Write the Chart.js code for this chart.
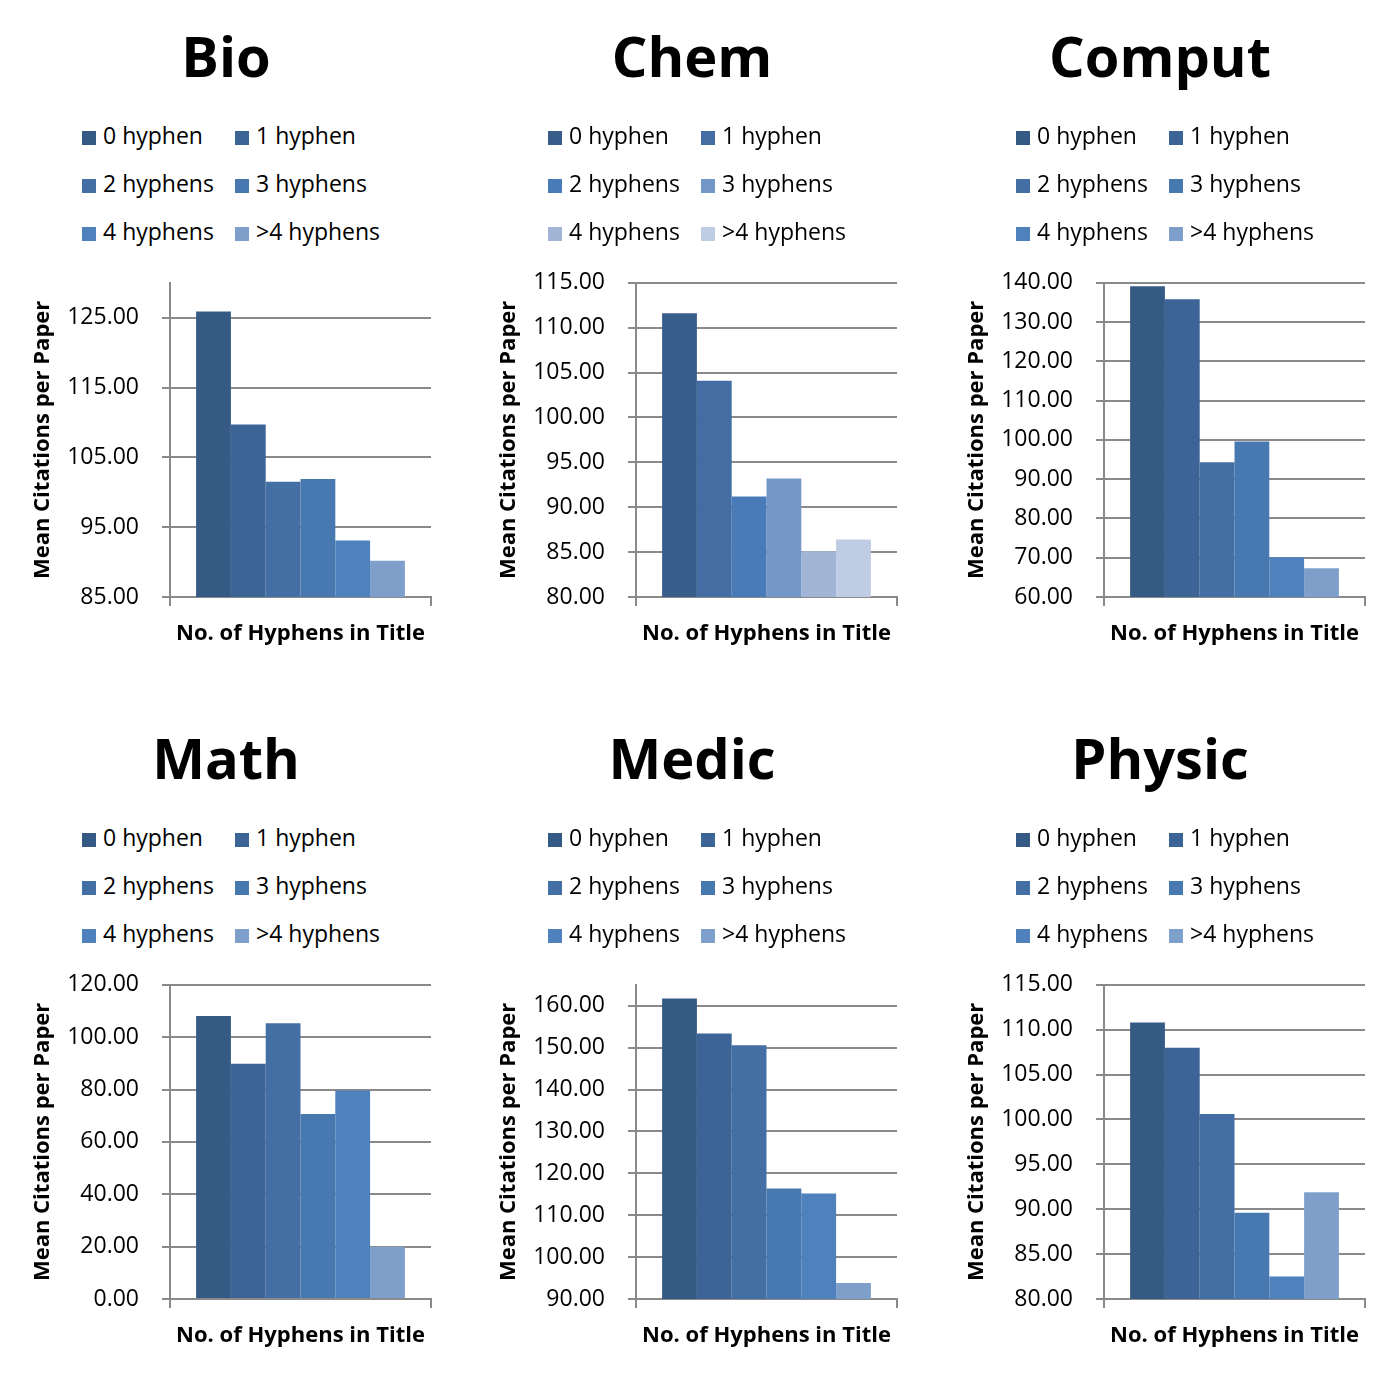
<!DOCTYPE html>
<html>
<head>
<meta charset="utf-8">
<script src="https://cdn.jsdelivr.net/npm/chart.js@4.4.1/dist/chart.umd.min.js"></script>
<style>
  html, body { margin: 0; padding: 0; background: #fff; }
  body { width: 1400px; height: 1379px; position: relative; font-family: "Open Sans", sans-serif; color: #000; }
  .panel { position: absolute; width: 467px; height: 690px; }
  .title { position: absolute; left: 0; top: 27px; width: 452px; text-align: center;
           font-weight: bold; font-size: 56px; line-height: 56px; }
  .legend { position: absolute; left: 82px; top: 111px; display: grid;
            grid-template-columns: 153px auto; }
  .legend div { height: 48px; line-height: 48px; font-size: 23px; white-space: nowrap; }
  .legend span { display: inline-block; width: 14px; height: 14px; margin-right: 7px; vertical-align: -1px; }
  canvas { position: absolute; left: 0; top: 246px; }
</style>
</head>
<body>
<script>
// series + values
const seriesNames = ['0 hyphen', '1 hyphen', '2 hyphens', '3 hyphens', '4 hyphens', '>4 hyphens'];

const bioValues    = [125.9, 109.7, 101.5, 101.9, 93.1, 90.2];
const chemValues   = [111.6, 104.1, 91.2, 93.2, 85.1, 86.4];
const computValues = [139.1, 135.8, 94.3, 99.6, 70.1, 67.3];
const mathValues   = [108.1, 89.8, 105.3, 70.7, 79.6, 20.0];
const medicValues  = [161.7, 153.4, 150.6, 116.4, 115.2, 93.8];
const physicValues = [110.8, 108.0, 100.6, 89.6, 82.5, 91.9];

const bioTicks    = [85, 95, 105, 115, 125];
const chemTicks   = [80, 85, 90, 95, 100, 105, 110, 115];
const computTicks = [60, 70, 80, 90, 100, 110, 120, 130, 140];
const mathTicks   = [0, 20, 40, 60, 80, 100, 120];
const medicTicks  = [90, 100, 110, 120, 130, 140, 150, 160];
const physicTicks = [80, 85, 90, 95, 100, 105, 110, 115];

const blueShades = ['#355a84', '#3c6496', '#436fa4', '#4878b0', '#4f81bd', '#7f9fcb'];
const chemShades = ['#395d8a', '#446ea3', '#4a7bb9', '#7597c7', '#a3b5d6', '#c0cce3'];

const gridGray = '#8a8a8a';

const panels = [
  { name: 'Bio',    values: bioValues,    ticks: bioTicks,    min: 85, max: 130, colors: blueShades, left: 0,   top: 0 },
  { name: 'Chem',   values: chemValues,   ticks: chemTicks,   min: 80, max: 115, colors: chemShades, left: 466, top: 0 },
  { name: 'Comput', values: computValues, ticks: computTicks, min: 60, max: 140, colors: blueShades, left: 934, top: 0 },
  { name: 'Math',   values: mathValues,   ticks: mathTicks,   min: 0,  max: 120, colors: blueShades, left: 0,   top: 702 },
  { name: 'Medic',  values: medicValues,  ticks: medicTicks,  min: 90, max: 165, colors: blueShades, left: 466, top: 702 },
  { name: 'Physic', values: physicValues, ticks: physicTicks, min: 80, max: 115, colors: blueShades, left: 934, top: 702 }
];

// html legend, 2 columns like the original
const htmlLegend = {
  id: 'htmlLegend',
  afterUpdate(chart, args, opts) {
    const box = document.getElementById(opts.containerID);
    box.innerHTML = '';
    const items = chart.options.plugins.legend.labels.generateLabels(chart);
    items.forEach(item => {
      const row = document.createElement('div');
      const sq = document.createElement('span');
      sq.style.background = item.fillStyle;
      row.appendChild(sq);
      row.appendChild(document.createTextNode(item.text));
      box.appendChild(row);
    });
  }
};

panels.forEach((p, i) => {
  const wrap = document.createElement('div');
  wrap.className = 'panel';
  wrap.style.left = p.left + 'px';
  wrap.style.top = p.top + 'px';
  wrap.innerHTML = '<div class="title">' + p.name + '</div>' +
                   '<div class="legend" id="legend' + i + '"></div>';
  const canvas = document.createElement('canvas');
  canvas.width = 467;
  canvas.height = 424;
  wrap.appendChild(canvas);
  document.body.appendChild(wrap);

  const datasets = seriesNames.map((s, k) => ({
    label: s,
    data: [p.values[k]],
    backgroundColor: p.colors[k],
    borderWidth: 0,
    categoryPercentage: 0.8,
    barPercentage: 1.0
  }));

  new Chart(canvas, {
    type: 'bar',
    data: { labels: [''], datasets: datasets },
    plugins: [htmlLegend],
    options: {
      responsive: false,
      animation: false,
      // top ends up ~37px because of the tick label room
      layout: { padding: { left: 28, right: 36, top: 30, bottom: 23 } },
      plugins: {
        legend: { display: false },
        tooltip: { enabled: false },
        htmlLegend: { containerID: 'legend' + i }
      },
      scales: {
        x: {
          grid: { drawOnChartArea: false, drawTicks: true, tickLength: 9, color: gridGray, lineWidth: 2, offset: true },
          border: { color: gridGray, width: 2 },
          ticks: { display: false },
          title: {
            display: true,
            text: 'No. of Hyphens in Title',
            color: '#000',
            font: { family: 'Open Sans', size: 22, weight: 'bold' },
            padding: 0
          },
          afterFit: (scale) => { scale.height = 50; }
        },
        y: {
          min: p.min,
          max: p.max,
          grid: { color: gridGray, lineWidth: 2, tickLength: 8 },
          border: { color: gridGray, width: 2 },
          ticks: {
            color: '#000',
            padding: 23,
            font: { family: 'Open Sans', size: 23 },
            callback: (v) => Number(v).toFixed(2)
          },
          title: {
            display: true,
            text: 'Mean Citations per Paper',
            color: '#000',
            font: { family: 'Open Sans', size: 22, weight: 'bold' },
            padding: { top: 2, bottom: 0 }
          },
          afterBuildTicks: (scale) => { scale.ticks = p.ticks.map(v => ({ value: v })); },
          afterFit: (scale) => { scale.width = 142; }
        }
      }
    }
  });
});
</script>
</body>
</html>
